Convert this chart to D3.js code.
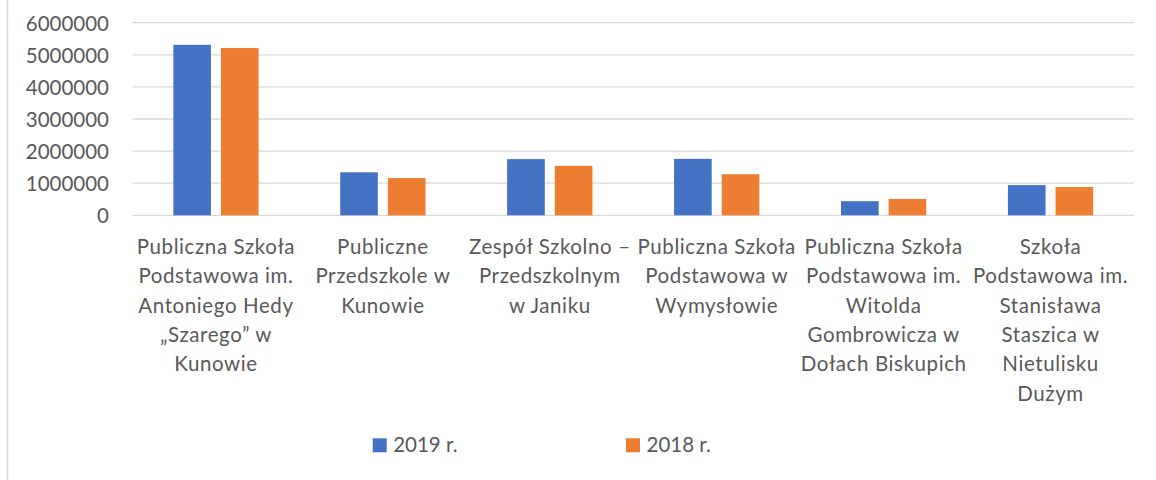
<!DOCTYPE html>
<html>
<head>
<meta charset="utf-8">
<script src="https://cdn.jsdelivr.net/npm/d3@7"></script>
<style>
  html, body { margin: 0; padding: 0; background: #fff; }
  svg { display: block; font-family: Lato, "Open Sans", sans-serif; }
</style>
</head>
<body>
<svg id="chart" width="1156" height="480"></svg>
<script>
const categories = [
  ["Publiczna Szkoła", "Podstawowa im.", "Antoniego Hedy", "„Szarego” w", "Kunowie"],
  ["Publiczne", "Przedszkole w", "Kunowie"],
  ["Zespół Szkolno –", "Przedszkolnym", "w Janiku"],
  ["Publiczna Szkoła", "Podstawowa w", "Wymysłowie"],
  ["Publiczna Szkoła", "Podstawowa im.", "Witolda", "Gombrowicza w", "Dołach Biskupich"],
  ["Szkoła", "Podstawowa im.", "Stanisława", "Staszica w", "Nietulisku", "Dużym"]
];
const seriesNames = ["2019 r.", "2018 r."];
const values2019 = [5310000, 1340000, 1750000, 1760000, 440000, 940000];
const values2018 = [5210000, 1160000, 1540000, 1280000, 510000, 880000];
const yTicks = [0, 1000000, 2000000, 3000000, 4000000, 5000000, 6000000];
const colors = ["#4472C4", "#ED7D31"];

const svg = d3.select("#chart");
const textColor = "#595959";
const plot = { left: 132.5, right: 1134, top: 22.7, bottom: 215.3 };

// outer frame line at left
svg.append("line").attr("x1", 7.5).attr("x2", 7.5).attr("y1", 0).attr("y2", 480)
  .attr("stroke", "#d9d9d9").attr("stroke-width", 1.5);

const catIdx = categories.map((d, i) => i);
const x0 = d3.scaleBand().domain(catIdx).range([plot.left, plot.right]).padding(0);
const x1 = d3.scaleBand().domain(seriesNames).range([0, x0.bandwidth()])
  .paddingInner(0.21).paddingOuter(0.857);
const y = d3.scaleLinear().domain([0, 6000000]).range([plot.bottom, plot.top]);

// gridlines
svg.append("g").selectAll("line").data(yTicks).join("line")
  .attr("x1", plot.left).attr("x2", plot.right)
  .attr("y1", d => y(d)).attr("y2", d => y(d))
  .attr("stroke", "#d9d9d9").attr("stroke-width", 1.3);

// y axis labels
const yAxis = d3.axisLeft(y).tickValues(yTicks).tickSize(0).tickPadding(0).tickFormat(d3.format("d"));
const yg = svg.append("g").attr("transform", "translate(109,0)").call(yAxis);
yg.select(".domain").remove();
yg.selectAll("text").attr("fill", textColor).style("font-size", "20.5px")
  .style("font-family", "Lato, sans-serif").attr("dy", "0.36em");

// bars
const data = catIdx.map(i => ({ i, vals: [values2019[i], values2018[i]] }));
const groups = svg.append("g").selectAll("g").data(data).join("g")
  .attr("transform", d => `translate(${x0(d.i)},0)`);
groups.selectAll("rect").data(d => d.vals.map((v, k) => ({ k, v }))).join("rect")
  .attr("x", d => x1(seriesNames[d.k]))
  .attr("width", x1.bandwidth())
  .attr("y", d => y(d.v))
  .attr("height", d => y(0) - y(d.v))
  .attr("fill", d => colors[d.k]);

// category labels
const labels = svg.append("g").selectAll("text").data(catIdx).join("text")
  .attr("x", i => x0(i) + x0.bandwidth() / 2)
  .attr("y", 254)
  .attr("text-anchor", "middle")
  .attr("fill", textColor)
  .style("font-size", "20.5px")
  .style("letter-spacing", "0.6px");
labels.selectAll("tspan").data(i => categories[i].map((t, j) => ({ t, j, i }))).join("tspan")
  .attr("x", d => x0(d.i) + x0.bandwidth() / 2)
  .attr("dy", d => d.j === 0 ? 0 : 29.3)
  .text(d => d.t);

// legend
const legendX = [372.7, 626];
const lg = svg.append("g").selectAll("g").data(seriesNames).join("g")
  .attr("transform", (d, k) => `translate(${legendX[k]},438.3)`);
lg.append("rect").attr("width", 14).attr("height", 14).attr("fill", (d, k) => colors[k]);
lg.append("text").attr("x", 20.5).attr("y", 14).attr("fill", textColor)
  .style("font-size", "20.5px").text(d => d);
</script>
</body>
</html>
